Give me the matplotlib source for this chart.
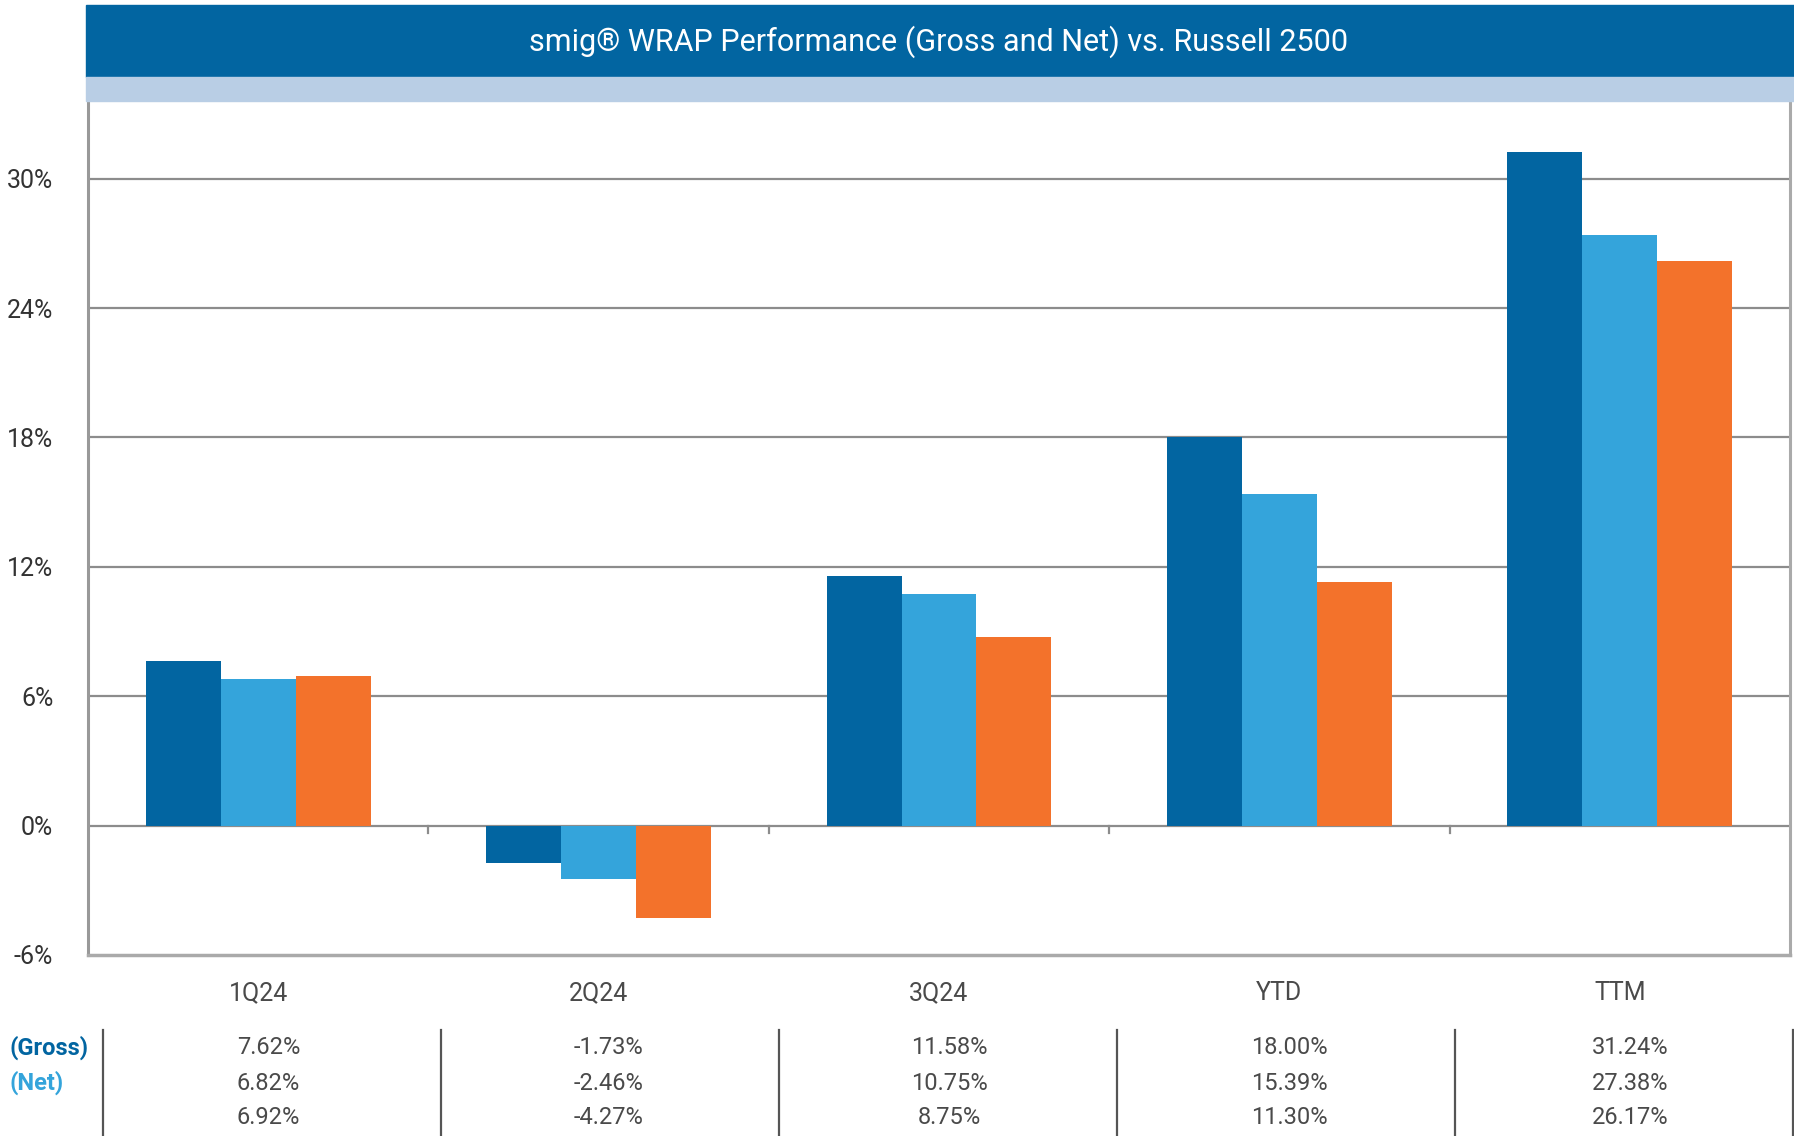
import numpy as np
import matplotlib
matplotlib.use("Agg")
import matplotlib.pyplot as plt
from matplotlib.patches import Rectangle
from matplotlib.transforms import blended_transform_factory

plt.rcParams['font.family'] = ['Roboto', 'DejaVu Sans']

# data
categories = ['1Q24', '2Q24', '3Q24', 'YTD', 'TTM']
gross = [7.62, -1.73, 11.58, 18.00, 31.24]
net = [6.82, -2.46, 10.75, 15.39, 27.38]
russell = [6.92, -4.27, 8.75, 11.30, 26.17]
row_labels = ['(Gross)', '(Net)', '']
y_ticks = [-6, 0, 6, 12, 18, 24, 30]

dark_blue = '#0265a1'
light_blue = '#34a4db'
orange = '#f3722b'
grid_col = '#8c8c8c'
text_col = '#4a4a4a'

W, H = 1794, 1136
fig = plt.figure(figsize=(W / 100, H / 100), dpi=100)

# title banner
fig.patches.append(Rectangle((86 / W, 1 - 77 / H), 1 - 86 / W, 72 / H,
                             transform=fig.transFigure, color=dark_blue, zorder=0))
fig.patches.append(Rectangle((86 / W, 1 - 101 / H), 1 - 86 / W, 24 / H,
                             transform=fig.transFigure, color='#b9cee5', zorder=0))
fig.text(939 / W, 1 - 42 / H, 'smig® WRAP Performance (Gross and Net) vs. Russell 2500',
         color='white', fontsize=22, ha='center', va='center')

ax = fig.add_axes([88 / W, 1 - 955 / H, (1790 - 88) / W, (955 - 101) / H])

x = np.arange(len(categories))
bw = 0.22
ax.bar(x - bw, gross, bw, color=dark_blue, zorder=3)
ax.bar(x, net, bw, color=light_blue, zorder=3)
ax.bar(x + bw, russell, bw, color=orange, zorder=3)

ax.set_xlim(-0.5, len(categories) - 0.5)
ax.set_ylim(-6, 33.6)
ax.set_yticks(y_ticks)
ax.set_yticklabels([f'{t}%' for t in y_ticks])
ax.tick_params(axis='y', length=0, pad=25, labelsize=18, labelcolor='#333333')
ax.set_xticks([])

for t in y_ticks[1:]:
    ax.axhline(t, color=grid_col, lw=1.6, zorder=1)

# small ticks between groups on the zero line
for b in x[:-1] + 0.5:
    ax.plot([b, b], [0, -0.35], color=grid_col, lw=1.6, zorder=2)

ax.spines['top'].set_visible(False)
ax.spines['left'].set_color('#999999')
ax.spines['left'].set_linewidth(2.2)
ax.spines['right'].set_color('#aaaaaa')
ax.spines['right'].set_linewidth(2.2)
ax.spines['bottom'].set_color('#aaaaaa')
ax.spines['bottom'].set_linewidth(2.5)

# category labels and table below
tr = blended_transform_factory(ax.transData, fig.transFigure)
for i, c in enumerate(categories):
    ax.text(i, 1 - 993 / H, c, transform=tr, ha='center', va='center',
            fontsize=18, color=text_col)

row_y = [1048, 1083, 1118]
series = [gross, net, russell]
for r, vals in enumerate(series):
    for i, v in enumerate(vals):
        ax.text(i + 0.03, 1 - row_y[r] / H, f'{v:.2f}%', transform=tr,
                ha='center', va='center', fontsize=17, color=text_col)

fig.text(9 / W, 1 - row_y[0] / H, row_labels[0], color=dark_blue,
         fontsize=17, fontweight='bold', ha='left', va='center')
fig.text(9 / W, 1 - row_y[1] / H, row_labels[1], color=light_blue,
         fontsize=17, fontweight='bold', ha='left', va='center')

for i in range(len(categories) + 1):
    xb = i - 0.5 + 0.035 * (1 - i / len(categories)) + 0.01
    ax.plot([xb, xb], [1 - 1030 / H, 0], transform=tr, color='#555555',
            lw=1.6, clip_on=False)

fig.savefig('out.png', dpi=100)
